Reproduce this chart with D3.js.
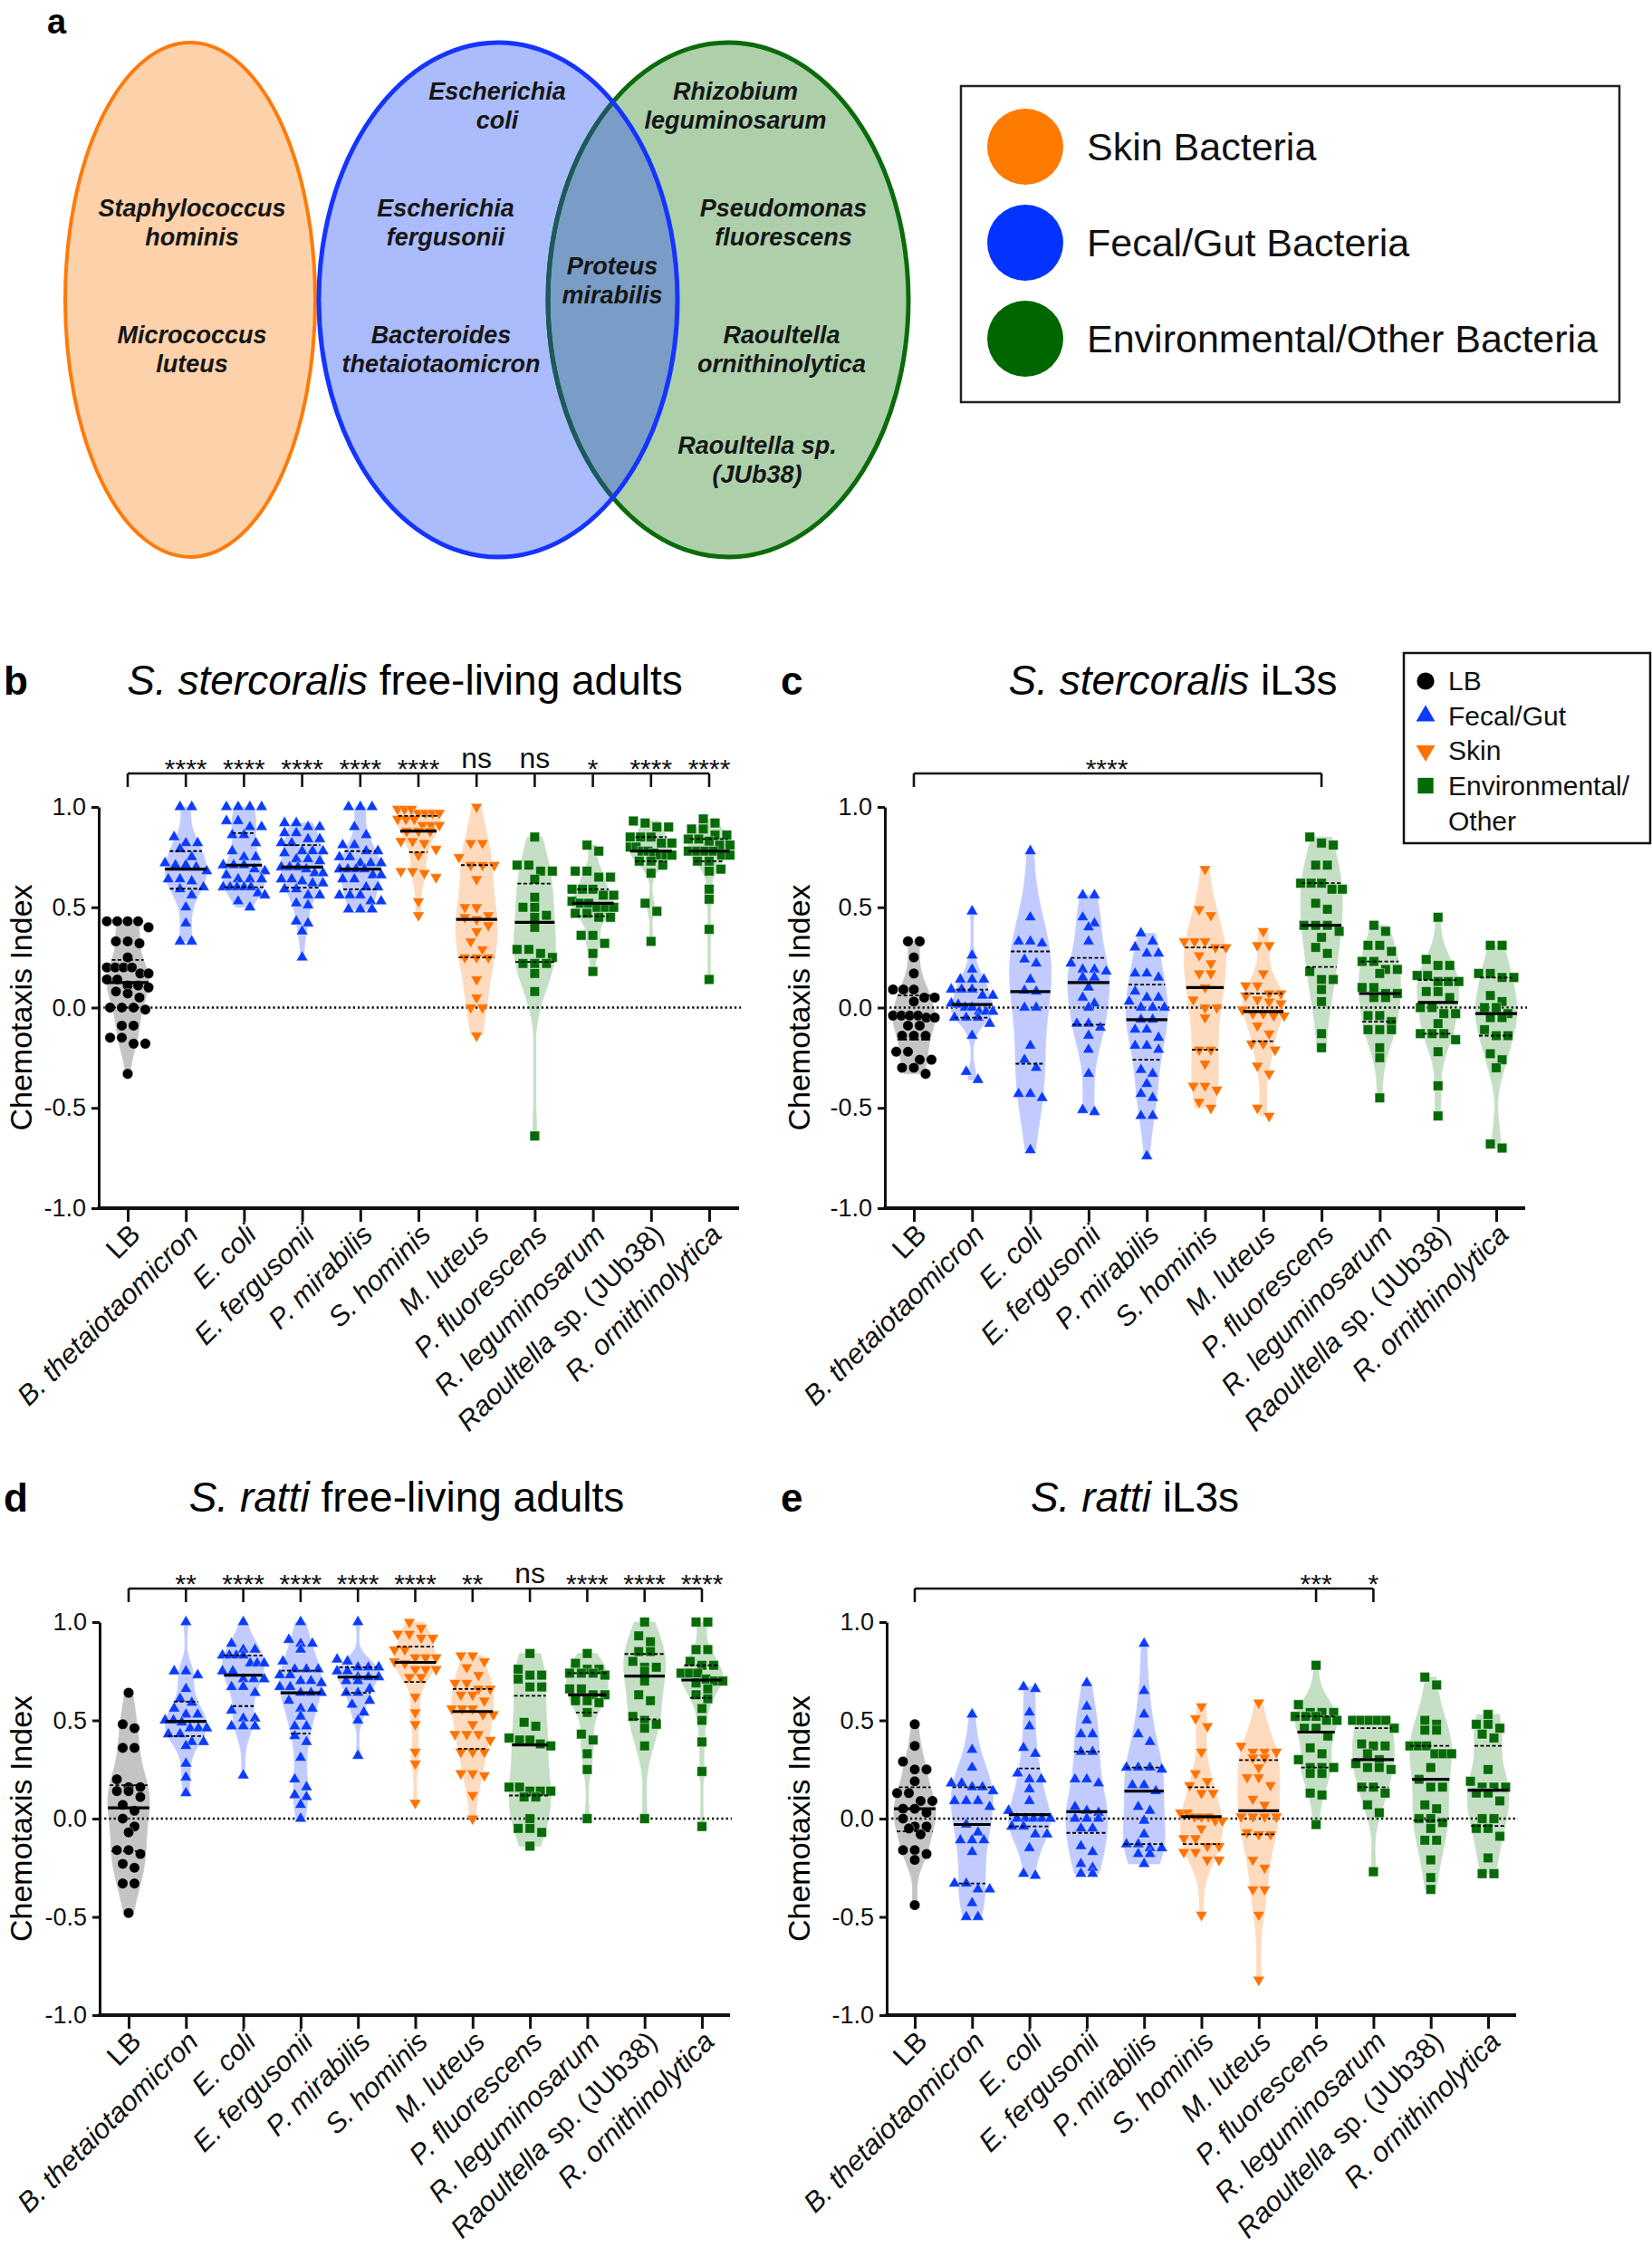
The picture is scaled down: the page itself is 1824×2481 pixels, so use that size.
<!DOCTYPE html>
<html>
<head>
<meta charset="utf-8">
<script src="https://cdn.jsdelivr.net/npm/d3@7"></script>
<style>
body{margin:0;background:#fff}
text{font-family:"Liberation Sans",Arial,Helvetica,sans-serif}
</style>
</head>
<body>
<svg id="fig" width="1824" height="2481"></svg>
<script>
// ---- data ----
const categories = ["LB","B. thetaiotaomicron","E. coli","E. fergusonii","P. mirabilis","S. hominis",
  "M. luteus","P. fluorescens","R. leguminosarum","Raoultella sp. (JUb38)","R. ornithinolytica"];
const groupKind = ["lb","gut","gut","gut","gut","skin","skin","env","env","env","env"];
const yTicks = [-1,-0.5,0,0.5,1];

// b: S. stercoralis free-living adults
const ssFreeLiving = [
  [0.43,0.43,0.43,0.43,0.40,0.33,0.33,0.32,0.25,0.20,0.20,0.20,0.20,0.17,0.17,0.14,0.14,0.11,0.11,0.10,0.08,0.07,0.05,0.00,0.00,0.00,-0.01,-0.09,-0.09,-0.15,-0.15,-0.18,-0.18,-0.33],
  [1.0,1.0,0.85,0.82,0.82,0.79,0.75,0.72,0.71,0.71,0.70,0.68,0.64,0.64,0.63,0.60,0.59,0.56,0.50,0.42,0.33,0.33],
  [1.0,1.0,1.0,1.0,0.93,0.93,0.90,0.90,0.86,0.86,0.82,0.78,0.75,0.75,0.71,0.71,0.71,0.69,0.68,0.66,0.64,0.64,0.64,0.60,0.60,0.60,0.60,0.60,0.57,0.56,0.53,0.50],
  [0.92,0.92,0.90,0.90,0.87,0.87,0.84,0.84,0.82,0.82,0.78,0.78,0.78,0.77,0.74,0.74,0.73,0.70,0.70,0.70,0.69,0.67,0.67,0.64,0.64,0.63,0.62,0.62,0.59,0.59,0.56,0.56,0.52,0.51,0.43,0.42,0.38,0.25],
  [1.0,1.0,1.0,0.90,0.86,0.81,0.81,0.78,0.78,0.75,0.75,0.72,0.72,0.72,0.69,0.69,0.69,0.69,0.66,0.66,0.64,0.64,0.60,0.60,0.56,0.56,0.56,0.53,0.53,0.49,0.49,0.49],
  [0.99,0.99,0.99,0.97,0.97,0.97,0.97,0.94,0.94,0.94,0.91,0.91,0.91,0.88,0.88,0.88,0.83,0.83,0.82,0.79,0.76,0.68,0.68,0.67,0.65,0.53,0.46],
  [1.0,0.82,0.82,0.75,0.71,0.71,0.71,0.64,0.50,0.50,0.46,0.45,0.44,0.41,0.38,0.33,0.29,0.25,0.25,0.25,0.14,0.05,0.0,0.0,-0.14],
  [0.85,0.71,0.71,0.68,0.68,0.64,0.55,0.50,0.50,0.46,0.45,0.40,0.29,0.29,0.27,0.25,0.22,0.22,0.22,0.17,0.08,-0.64],
  [0.81,0.78,0.68,0.68,0.65,0.65,0.59,0.59,0.59,0.56,0.56,0.53,0.52,0.52,0.50,0.50,0.50,0.47,0.47,0.45,0.45,0.36,0.36,0.32,0.27,0.18],
  [0.93,0.92,0.90,0.90,0.85,0.85,0.85,0.82,0.82,0.80,0.80,0.78,0.78,0.77,0.76,0.76,0.76,0.73,0.73,0.71,0.67,0.52,0.48,0.33],
  [0.94,0.92,0.89,0.89,0.86,0.86,0.84,0.84,0.83,0.81,0.81,0.78,0.78,0.78,0.78,0.76,0.76,0.73,0.73,0.69,0.68,0.59,0.54,0.39,0.14]
];
// c: S. stercoralis iL3s
const ssIL3 = [
  [0.33,0.33,0.25,0.17,0.09,0.09,0.09,0.05,0.05,0.03,-0.04,-0.04,-0.04,-0.04,-0.05,-0.05,-0.09,-0.09,-0.14,-0.14,-0.14,-0.22,-0.22,-0.26,-0.26,-0.30,-0.30,-0.33],
  [0.48,0.26,0.19,0.14,0.14,0.14,0.09,0.09,0.09,0.06,0.06,0.02,0.015,0.0,0.0,-0.02,-0.02,-0.02,-0.05,-0.05,-0.05,-0.08,-0.14,-0.32,-0.36],
  [0.78,0.45,0.33,0.33,0.32,0.24,0.22,0.14,0.085,0.08,0.0,0.0,-0.19,-0.26,-0.30,-0.43,-0.45,-0.43,-0.71],
  [0.56,0.56,0.45,0.42,0.40,0.33,0.22,0.19,0.19,0.18,0.15,0.15,0.10,0.05,0.02,0.0,-0.08,-0.08,-0.10,-0.14,-0.21,-0.33,-0.51,-0.52],
  [0.37,0.33,0.30,0.27,0.27,0.17,0.17,0.15,0.08,0.05,0.05,0.03,0.0,0.0,0.0,-0.06,-0.06,-0.11,-0.11,-0.15,-0.19,-0.19,-0.21,-0.31,-0.33,-0.38,-0.43,-0.45,-0.54,-0.54,-0.74],
  [0.69,0.49,0.46,0.33,0.33,0.33,0.30,0.30,0.26,0.22,0.17,0.17,0.10,0.04,0.0,0.0,-0.05,-0.21,-0.21,-0.28,-0.39,-0.39,-0.41,-0.47,-0.50],
  [0.38,0.31,0.31,0.17,0.11,0.11,0.07,0.07,0.06,0.04,0.03,0.02,-0.01,-0.03,-0.03,-0.04,-0.04,-0.09,-0.13,-0.18,-0.18,-0.21,-0.29,-0.33,-0.50,-0.54],
  [0.85,0.82,0.81,0.71,0.71,0.62,0.62,0.62,0.59,0.59,0.52,0.49,0.41,0.41,0.41,0.38,0.35,0.30,0.27,0.18,0.14,0.14,0.09,0.03,-0.13,-0.20],
  [0.41,0.38,0.31,0.31,0.28,0.23,0.23,0.19,0.19,0.17,0.10,0.10,0.07,0.07,0.05,0.05,-0.04,-0.04,-0.07,-0.11,-0.11,-0.11,-0.20,-0.25,-0.45],
  [0.45,0.24,0.21,0.21,0.16,0.16,0.13,0.13,0.13,0.08,0.08,0.05,0.0,0.0,-0.03,-0.03,-0.08,-0.13,-0.13,-0.13,-0.16,-0.22,-0.39,-0.54],
  [0.31,0.31,0.17,0.17,0.15,0.15,0.06,0.03,0.0,0.0,-0.03,-0.05,-0.05,-0.11,-0.14,-0.14,-0.23,-0.26,-0.30,-0.68,-0.70]
];
// d: S. ratti free-living adults
const srFreeLiving = [
  [0.64,0.48,0.46,0.36,0.36,0.20,0.16,0.16,0.14,0.14,0.11,0.07,0.04,0.0,-0.04,-0.07,-0.16,-0.16,-0.18,-0.23,-0.25,-0.33,-0.33,-0.48],
  [1.0,0.75,0.75,0.73,0.66,0.61,0.59,0.56,0.53,0.53,0.50,0.50,0.49,0.46,0.46,0.46,0.43,0.43,0.39,0.39,0.37,0.28,0.21,0.13],
  [1.0,0.89,0.86,0.86,0.83,0.83,0.83,0.83,0.79,0.79,0.79,0.75,0.75,0.71,0.71,0.71,0.67,0.67,0.64,0.55,0.51,0.51,0.47,0.47,0.47,0.22],
  [1.0,0.91,0.89,0.89,0.86,0.80,0.76,0.76,0.76,0.73,0.73,0.70,0.70,0.69,0.67,0.67,0.64,0.64,0.64,0.60,0.56,0.56,0.52,0.47,0.47,0.42,0.39,0.31,0.20,0.16,0.12,0.11,0.07,0.0],
  [1.0,0.81,0.80,0.77,0.77,0.77,0.75,0.75,0.72,0.72,0.72,0.70,0.70,0.66,0.64,0.64,0.60,0.58,0.54,0.50,0.32],
  [1.0,0.97,0.94,0.94,0.92,0.92,0.86,0.86,0.82,0.82,0.82,0.80,0.79,0.76,0.76,0.76,0.72,0.72,0.62,0.54,0.48,0.34,0.28,0.08],
  [0.83,0.83,0.80,0.77,0.73,0.69,0.69,0.66,0.66,0.63,0.63,0.60,0.56,0.56,0.56,0.53,0.53,0.48,0.43,0.43,0.43,0.40,0.34,0.34,0.34,0.23,0.23,0.22,0.12,0.0],
  [0.84,0.76,0.73,0.73,0.71,0.67,0.67,0.49,0.47,0.41,0.40,0.40,0.38,0.37,0.16,0.16,0.14,0.14,0.14,0.11,0.11,0.0,-0.05,-0.05,-0.07,-0.14],
  [0.84,0.79,0.76,0.76,0.74,0.74,0.74,0.73,0.66,0.66,0.63,0.63,0.60,0.60,0.59,0.54,0.43,0.40,0.33,0.25,0.0],
  [1.0,0.93,0.90,0.85,0.85,0.80,0.77,0.77,0.75,0.70,0.63,0.60,0.52,0.50,0.48,0.46,0.37,0.0],
  [1.0,1.0,0.86,0.86,0.80,0.78,0.78,0.74,0.74,0.74,0.71,0.70,0.70,0.69,0.66,0.63,0.61,0.56,0.50,0.39,0.24,-0.04]
];
// e: S. ratti iL3s
const srIL3 = [
  [0.48,0.37,0.29,0.25,0.25,0.19,0.13,0.13,0.09,0.09,0.05,0.05,0.03,0.0,-0.04,-0.04,-0.05,-0.08,-0.16,-0.16,-0.18,-0.21,-0.44],
  [0.53,0.35,0.26,0.18,0.18,0.16,0.16,0.14,0.09,0.09,0.09,0.06,-0.03,-0.07,-0.11,-0.11,-0.11,-0.17,-0.33,-0.33,-0.36,-0.36,-0.43,-0.50,-0.50],
  [0.67,0.66,0.54,0.47,0.36,0.33,0.23,0.20,0.20,0.15,0.09,0.04,0.0,0.0,0.0,0.0,0.0,-0.04,-0.04,-0.08,-0.08,-0.15,-0.28,-0.29],
  [0.69,0.57,0.50,0.43,0.43,0.34,0.34,0.20,0.20,0.18,0.06,0.04,0.03,0.0,0.0,0.0,-0.05,-0.05,-0.14,-0.17,-0.23,-0.25,-0.28,-0.28],
  [0.89,0.65,0.53,0.43,0.39,0.26,0.26,0.26,0.25,0.17,0.17,0.14,0.06,0.04,-0.01,-0.08,-0.13,-0.13,-0.15,-0.15,-0.18,-0.18,-0.23],
  [0.57,0.51,0.47,0.34,0.23,0.19,0.17,0.13,0.13,0.03,0.03,0.01,0.01,0.01,-0.01,-0.01,-0.05,-0.10,-0.10,-0.14,-0.14,-0.17,-0.17,-0.21,-0.21,-0.49],
  [0.59,0.37,0.34,0.34,0.34,0.31,0.31,0.26,0.21,0.21,0.17,0.10,0.07,0.01,0.01,0.01,0.01,-0.07,-0.08,-0.08,-0.21,-0.25,-0.36,-0.36,-0.49,-0.82],
  [0.78,0.58,0.54,0.54,0.54,0.52,0.52,0.52,0.50,0.50,0.46,0.46,0.42,0.36,0.33,0.30,0.26,0.26,0.26,0.23,0.23,0.13,0.12,-0.03],
  [0.50,0.50,0.50,0.50,0.50,0.46,0.38,0.37,0.37,0.33,0.30,0.28,0.26,0.26,0.25,0.16,0.16,0.13,0.07,0.03,-0.27],
  [0.72,0.68,0.50,0.48,0.45,0.45,0.37,0.37,0.37,0.33,0.33,0.33,0.26,0.20,0.16,0.16,0.07,0.05,0.0,0.0,-0.02,-0.05,-0.11,-0.11,-0.21,-0.30,-0.36],
  [0.53,0.48,0.48,0.46,0.43,0.41,0.25,0.19,0.16,0.16,0.16,0.13,0.13,0.09,0.0,0.0,-0.05,-0.05,-0.09,-0.20,-0.28,-0.28]
];
// significance marks
const sigB = ["","****","****","****","****","****","ns","ns","*","****","****"];
const sigD = ["","**","****","****","****","****","**","ns","****","****","****"];
const sigC = [{to:7,label:"****"}];
const sigE = [{to:7,label:"***"},{to:8,label:"*"}];

const legendA = ["Skin Bacteria","Fecal/Gut Bacteria","Environmental/Other Bacteria"];
const legendC = [["lb","LB"],["gut","Fecal/Gut"],["skin","Skin"],["env","Environmental/","Other"]];
const vennLabels = [
  ["Staphylococcus","hominis"],["Micrococcus","luteus"],
  ["Escherichia","coli"],["Escherichia","fergusonii"],["Bacteroides","thetaiotaomicron"],
  ["Proteus","mirabilis"],
  ["Rhizobium","leguminosarum"],["Pseudomonas","fluorescens"],["Raoultella","ornithinolytica"],["Raoultella sp.","(JUb38)"]
];

// ---- styles ----
const kindColor = {lb:"#000000", gut:"#0a3bff", skin:"#ff7200", env:"#066a06"};
const kindFill  = {lb:"#c4c4c4", gut:"#c1cbff", skin:"#fedabe", env:"#c4dfc4"};
const symType = {lb:d3.symbolCircle, gut:d3.symbolTriangle, skin:d3.symbolTriangle, env:d3.symbolSquare};
const symSize = {lb:105, gut:72, skin:72, env:112};

const svg = d3.select("#fig");
const defs = svg.append("defs");

// ---------- panel a : Venn ----------
const vennPos = [[212,239],[212,379],[549,110],[492,239],[487,379],[676,303],[812,110],[865,239],[863,379],[836,501]];
const ell = {skin:[210,331,138,284], gut:[550,331,198,284], env:[804,331,199,284]};
function ellipse(sel, e){ return sel.append("ellipse").attr("cx",e[0]).attr("cy",e[1]).attr("rx",e[2]).attr("ry",e[3]); }
ellipse(defs.append("clipPath").attr("id","clipEnv"), ell.env);
ellipse(defs.append("clipPath").attr("id","clipGut"), ell.gut);

const va = svg.append("g");
va.append("text").attr("x",52).attr("y",37).attr("font-size",38).attr("font-weight","bold").text("a");
ellipse(va, ell.skin).attr("fill","#fdd2aa").attr("stroke","#ff7a0a").attr("stroke-width",4);
ellipse(va, ell.env).attr("fill","#add0ab");
ellipse(va, ell.gut).attr("fill","#abbcfd");
ellipse(va, ell.gut).attr("fill","#7a9dc7").attr("clip-path","url(#clipEnv)");
ellipse(va, ell.env).attr("fill","none").attr("stroke","#0b6b0b").attr("stroke-width",5);
ellipse(va, ell.env).attr("fill","none").attr("stroke","#1d5a60").attr("stroke-width",5).attr("clip-path","url(#clipGut)");
ellipse(va, ell.gut).attr("fill","none").attr("stroke","#1534ff").attr("stroke-width",5);

vennLabels.forEach((lines,i)=>{
  const t = va.append("text").attr("text-anchor","middle").attr("font-size",27)
    .attr("font-weight","bold").attr("font-style","italic").attr("fill","#161616");
  lines.forEach((l,k)=>t.append("tspan").attr("x",vennPos[i][0]).attr("y",vennPos[i][1]+k*32).text(l));
});

va.append("rect").attr("x",1061).attr("y",95).attr("width",727).attr("height",349)
  .attr("fill","none").attr("stroke","#222").attr("stroke-width",2.5);
const aCol = ["#ff7a00","#0433ff","#006600"];
legendA.forEach((l,i)=>{
  const cy = 162 + i*106;
  va.append("circle").attr("cx",1132).attr("cy",cy).attr("r",42).attr("fill",aCol[i]);
  va.append("text").attr("x",1200).attr("y",cy+15).attr("font-size",43).attr("fill","#111").text(l);
});

// ---------- panels b-e ----------
const panels = [
  {data:ssFreeLiving, title:["S. stercoralis"," free-living adults"], letter:"b", letterX:4, titleX:447, titleY:767,
   x0:141, x1:783, axisX:109, axisEnd:816, yTop:891, yBot:1334, ylabX:35, brY:854, sig:{all:sigB}},
  {data:ssIL3, title:["S. stercoralis"," iL3s"], letter:"c", letterX:862, titleX:1295, titleY:767,
   x0:1009, x1:1652, axisX:977, axisEnd:1684, yTop:891, yBot:1334, ylabX:894, brY:854, sig:{pairs:sigC, ticks:[7]}},
  {data:srFreeLiving, title:["S. ratti"," free-living adults"], letter:"d", letterX:4, titleX:449, titleY:1669,
   x0:142, x1:775, axisX:110, axisEnd:806, yTop:1791, yBot:2225, ylabX:35, brY:1754, sig:{all:sigD}},
  {data:srIL3, title:["S. ratti"," iL3s"], letter:"e", letterX:862, titleX:1253, titleY:1669,
   x0:1010, x1:1643, axisX:979, axisEnd:1674, yTop:1791, yBot:2225, ylabX:894, brY:1754, sig:{pairs:sigE, ticks:[7,8]}}
];

const HALF = 23;      // max half width of a violin
const MARK = 12;      // marker diameter for swarm layout

function drawPanel(p){
  const g = svg.append("g");
  const x = d3.scalePoint().domain(categories).range([p.x0,p.x1]);
  const y = d3.scaleLinear().domain([-1,1]).range([p.yBot,p.yTop]);

  // letter + title
  g.append("text").attr("x",p.letterX).attr("y",p.titleY).attr("font-size",44).attr("font-weight","bold").text(p.letter);
  const tt = g.append("text").attr("x",p.titleX).attr("y",p.titleY).attr("text-anchor","middle").attr("font-size",46);
  tt.append("tspan").attr("font-style","italic").text(p.title[0]);
  tt.append("tspan").text(p.title[1]);

  // y axis label
  g.append("text").attr("transform",`translate(${p.ylabX},${(p.yTop+p.yBot)/2}) rotate(-90)`)
    .attr("text-anchor","middle").attr("font-size",34).text("Chemotaxis Index");

  const stats = [];
  // violins
  p.data.forEach((vals,i)=>{
    const kind = groupKind[i];
    const s = vals.slice().sort(d3.ascending);
    const lo = s[0], hi = s[s.length-1];
    const sd = d3.deviation(s);
    const iqr = d3.quantile(s,0.75)-d3.quantile(s,0.25);
    const h = 0.9*Math.min(sd, iqr>0 ? iqr/1.34 : sd)*Math.pow(s.length,-0.2);
    const dens = v => d3.sum(s, t => Math.exp(-0.5*((v-t)/h)**2));
    const grid = d3.range(101).map(k => lo+(hi-lo)*k/100);
    const maxD = d3.max(grid, dens);
    const wAt = v => Math.max(1.2, HALF*dens(v)/maxD);
    const cx = x(categories[i]);
    g.append("path")
      .datum(grid)
      .attr("d", d3.area().y(v=>y(v)).x0(v=>cx-wAt(v)).x1(v=>cx+wAt(v)))
      .attr("fill", kindFill[kind]).attr("stroke",kindFill[kind]).attr("stroke-width",0.8);
    stats.push({s, cx, kind, wAt});
  });

  // zero line
  g.append("line").attr("x1",p.axisX).attr("x2",p.axisEnd+2).attr("y1",y(0)).attr("y2",y(0))
    .attr("stroke","#000").attr("stroke-width",2.6).attr("stroke-dasharray","2.2,3");

  // points (rows of a simple swarm)
  stats.forEach(st=>{
    const pts = st.s.map(v=>({v, py:y(v)})).sort((a,b)=>a.py-b.py);
    const rows=[]; let cur=null;
    pts.forEach(q=>{ if(cur && q.py-cur[0].py < MARK*0.75) cur.push(q); else {cur=[q]; rows.push(cur);} });
    rows.forEach(r=>{
      const k=r.length; let sp=MARK*1.08;
      if((k-1)*sp > 2*HALF) sp = 2*HALF/(k-1);
      r.forEach((q,j)=>q.dx=(j-(k-1)/2)*sp);
    });
    const sym = d3.symbol().type(symType[st.kind]).size(symSize[st.kind]);
    g.append("g").selectAll("path").data(pts).join("path")
      .attr("d", sym)
      .attr("transform", q=>`translate(${st.cx+q.dx},${q.py})` + (st.kind==="skin"?" rotate(180)":""))
      .attr("fill", kindColor[st.kind])
      .attr("stroke","#ffffff").attr("stroke-width",0.7).attr("stroke-opacity",0.6);
  });

  // median + quartiles
  stats.forEach(st=>{
    [[0.25,false],[0.5,true],[0.75,false]].forEach(([q,med])=>{
      const v = d3.quantile(st.s,q);
      const w = st.wAt(v);
      g.append("line").attr("x1",st.cx-w).attr("x2",st.cx+w).attr("y1",y(v)).attr("y2",y(v))
        .attr("stroke","#000").attr("stroke-width", med?3.2:1.8)
        .attr("stroke-dasharray", med?null:"4,2.5");
    });
  });

  // y axis
  const ya = g.append("g").attr("transform",`translate(${p.axisX},0)`)
    .call(d3.axisLeft(y).tickValues(yTicks).tickFormat(d=>d.toFixed(1)).tickSize(8).tickSizeOuter(0).tickPadding(6));
  ya.select(".domain").attr("stroke","#111").attr("stroke-width",3);
  ya.selectAll(".tick line").attr("stroke","#111").attr("stroke-width",3);
  ya.selectAll(".tick text").attr("font-size",27).attr("font-family","Liberation Sans, Arial, sans-serif").attr("fill","#111");

  // x axis
  g.append("line").attr("x1",p.axisX-1.5).attr("x2",p.axisEnd).attr("y1",p.yBot).attr("y2",p.yBot)
    .attr("stroke","#111").attr("stroke-width",4);
  const xa = g.append("g").attr("transform",`translate(0,${p.yBot})`)
    .call(d3.axisBottom(x).tickSize(15).tickSizeOuter(0));
  xa.select(".domain").remove();
  xa.selectAll(".tick line").attr("stroke","#111").attr("stroke-width",3);
  xa.selectAll(".tick text")
    .attr("font-size",31).attr("font-family","Liberation Sans, Arial, sans-serif").attr("fill","#111")
    .attr("text-anchor","end").attr("y",0).attr("dy",0)
    .attr("transform","translate(15,31) rotate(-45)")
    .each(function(d){
      const t = d3.select(this); t.text(null);
      if(d==="LB"){ t.text(d); return; }
      const m = d.match(/^(Raoultella)( sp\. \(JUb38\))$/);
      if(m){ t.append("tspan").attr("font-style","italic").text(m[1]); t.append("tspan").text(m[2]); }
      else t.append("tspan").attr("font-style","italic").text(d);
    });

  // significance bracket
  const bt = g.append("g").attr("stroke","#111").attr("stroke-width",2.6).attr("fill","none");
  const x0 = x(categories[0]);
  if(p.sig.all){
    bt.append("line").attr("x1",x0).attr("x2",x(categories[10])).attr("y1",p.brY).attr("y2",p.brY);
    categories.forEach((c,i)=>bt.append("line").attr("x1",x(c)).attr("x2",x(c)).attr("y1",p.brY).attr("y2",p.brY+15));
    p.sig.all.forEach((lab,i)=>{
      if(!lab) return;
      const isNs = lab==="ns";
      g.append("text").attr("x",x(categories[i])).attr("y", isNs? p.brY-6 : p.brY+5)
        .attr("text-anchor","middle").attr("font-size", isNs?32:30).attr("fill","#111").text(lab);
    });
  } else {
    const last = d3.max(p.sig.pairs, d=>d.to);
    bt.append("line").attr("x1",x0).attr("x2",x(categories[last])).attr("y1",p.brY).attr("y2",p.brY);
    [0].concat(p.sig.ticks).forEach(i=>bt.append("line").attr("x1",x(categories[i])).attr("x2",x(categories[i])).attr("y1",p.brY).attr("y2",p.brY+15));
    p.sig.pairs.forEach(pr=>{
      const lx = p.sig.pairs.length===1 ? (x0 + x(categories[pr.to]))/2 - 12 : x(categories[pr.to]);
      g.append("text").attr("x",lx).attr("y",p.brY+5).attr("text-anchor","middle")
        .attr("font-size",30).attr("fill","#111").text(pr.label);
    });
  }
}
panels.forEach(drawPanel);

// legend of panel c
const lg = svg.append("g");
lg.append("rect").attr("x",1550).attr("y",721).attr("width",272).attr("height",210)
  .attr("fill","#fff").attr("stroke","#111").attr("stroke-width",2.5);
const legSize = {lb:290, gut:190, skin:190, env:300};
legendC.forEach((e,i)=>{
  const by = 762 + i*38.5;
  lg.append("path").attr("d", d3.symbol().type(symType[e[0]]).size(legSize[e[0]]))
    .attr("transform",`translate(1574,${by-10})` + (e[0]==="skin"?" rotate(180)":""))
    .attr("fill",kindColor[e[0]]);
  lg.append("text").attr("x",1599).attr("y",by).attr("font-size",30).attr("fill","#111").text(e[1]);
  if(e[2]) lg.append("text").attr("x",1599).attr("y",by+39).attr("font-size",30).attr("fill","#111").text(e[2]);
});
</script>
</body>
</html>
